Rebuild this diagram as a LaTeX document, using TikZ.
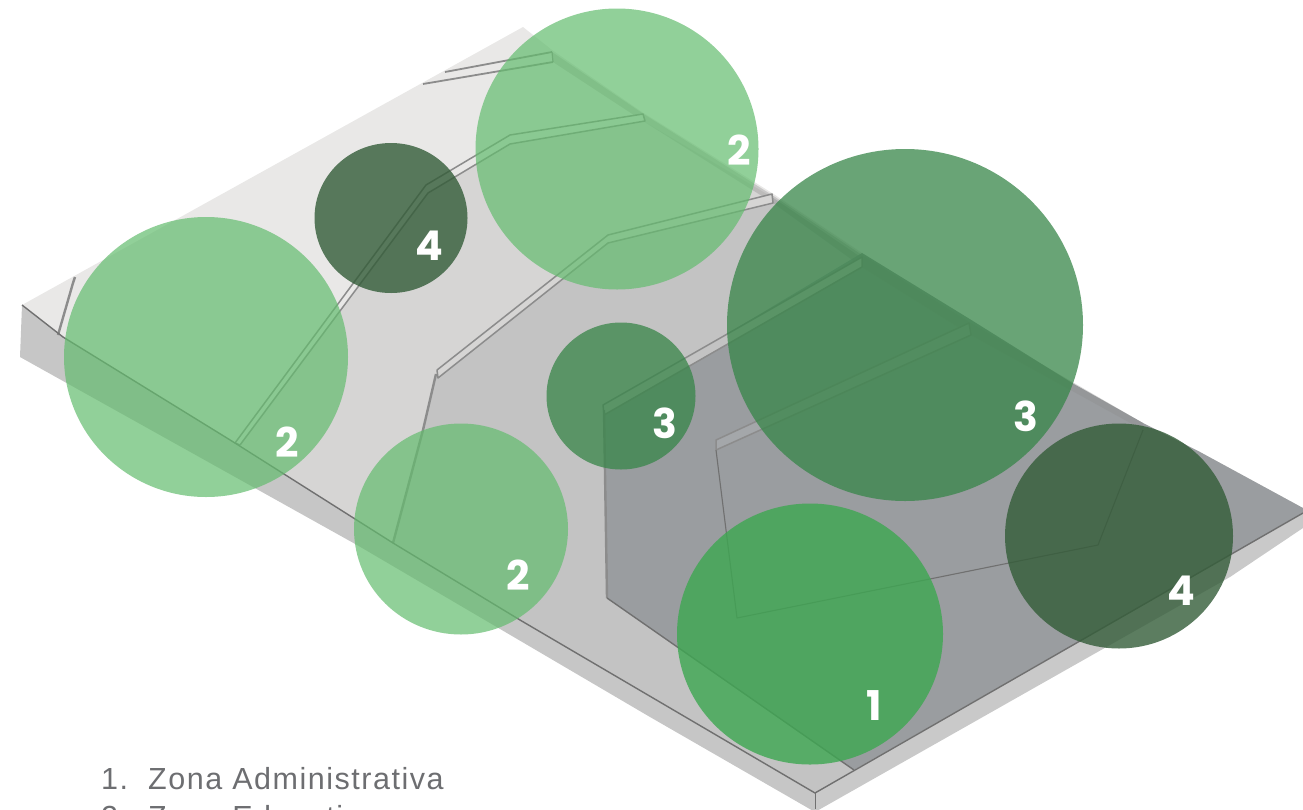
\documentclass[tikz,border=0pt]{standalone}
\usepackage{fontspec}
\setmainfont{Liberation Sans}
\newfontfamily\digitfont{Poppins}
\definecolor{zoneA}{HTML}{E9E8E7}
\definecolor{zoneB}{HTML}{D6D5D4}
\definecolor{zoneC}{HTML}{C3C3C3}
\definecolor{zoneD}{HTML}{9A9DA0}
\definecolor{sideL}{HTML}{C6C6C6}
\definecolor{sideR}{HTML}{C9C9C9}
\definecolor{wallc}{HTML}{8C8C8C}
\definecolor{wallf}{HTML}{D2D2D2}
\definecolor{legend}{HTML}{6D6E71}
\definecolor{cA}{HTML}{3DA751}
\definecolor{cB}{HTML}{63BC6E}
\definecolor{cC}{HTML}{378548}
\definecolor{cD}{HTML}{335C38}
\tikzset{
  edgeline/.style={draw=wallc!80!black,line width=1.4pt,line join=round},
  wall/.style={draw=wallc,fill=wallf,line width=1.5pt,line join=round},
  wallthick/.style={draw=wallc,line width=2.4pt,line join=round},
  blobA/.style={fill=cA,fill opacity=.80},
  blobB/.style={fill=cB,fill opacity=.70},
  blobC/.style={fill=cC,fill opacity=.75},
  blobD/.style={fill=cD,fill opacity=.80},
  digit/.style={text=white,font=\digitfont\bfseries\fontsize{41}{41}\selectfont,inner sep=0pt,anchor=center},
  legendtext/.style={text=legend,font=\fontsize{30.5}{36}\selectfont\addfontfeature{LetterSpace=5},inner sep=0pt,anchor=base west}
}
\begin{document}
\begin{tikzpicture}[x=1pt,y=-1pt]
\useasboundingbox (0,0) rectangle (1303,809);
% slab sides
\fill[sideL] (22,305) -- (20,357) -- (357,545) -- (650,717) -- (815,812) -- (815,793) -- (520,620) -- (393,543) -- (235,443) -- (63,337) -- cycle;
\fill[sideR] (815,793) -- (815,812) -- (1230,577) -- (1303,528) -- (1303,513) -- cycle;
% top surface
\fill[zoneA] (22,305) -- (523,27) -- (552,50) -- (642,112) -- (772,193) -- (862,253) -- (968,318) -- (1072,383) -- (1143,423) -- (1200,452) -- (1303,508) -- (1303,513) -- (815,793) -- (520,620) -- (393,543) -- (235,443) -- (63,337) -- cycle;
\fill[zoneB] (643,121) -- (510,144) -- (428,193) -- (240,445) -- (393,543) -- (437,372) -- (608,237) -- (772,197) -- cycle;
\fill[zoneC] (772,197) -- (862,258) -- (603,408) -- (607,598) -- (854,770) -- (815,793) -- (520,620) -- (393,543) -- (437,372) -- (608,237) -- cycle;
\fill[zoneD] (862,253) -- (968,318) -- (1072,383) -- (1143,423) -- (1200,452) -- (1303,508) -- (1303,513) -- (854,770) -- (607,598) -- (603,408) -- cycle;
% small walls, back
\draw[wallthick] (58,335) -- (73,283) -- (75,277);
\draw[wallc,line width=1.8pt] (445,72) -- (552,52);
\draw[wallc,line width=1.8pt] (423,84) -- (553,62);
\draw[wallc,line width=1.2pt] (552,52) -- (553,62);
% back wall band
\fill[wallc,opacity=.35] (552,52) -- (642,113) -- (772,195) -- (862,255) -- (969,322) -- (1143,423) -- (1143,430) -- (971,335) -- (862,267) -- (773,203) -- (643,121) -- (553,62) -- cycle;
% wall between the first two zones
\draw[wall,fill=zoneA] (235,443) -- (426,185) -- (510,135) -- (643,114) -- (645,121) -- (510,144) -- (428,193) -- (240,445) -- cycle;
% wall between the second and third zones
\draw[wall,fill=zoneB] (437,370) -- (608,235) -- (772,194) -- (773,203) -- (608,243) -- (438,378) -- cycle;
\draw[wallthick] (393,543) -- (423,430) -- (436,374);
% wall between the third and fourth zones
\draw[wall,fill=zoneC] (603,405) -- (862,257) -- (862,267) -- (604,415) -- cycle;
\draw[wallthick] (604,410) -- (607,598);
\draw[edgeline] (607,598) -- (854,770);
% inner wall
\draw[wall,fill=zoneD!90!white] (716,450) -- (716,440) -- (969,323) -- (971,335) -- cycle;
\draw[edgeline,line width=1.1pt] (716,450) -- (737,618) -- (1098,545) -- (1143,430);
% slab edges
\draw[edgeline] (22,305) -- (63,337) -- (235,443) -- (393,543) -- (520,620) -- (815,793) -- (1303,513);
\draw[edgeline,line width=1pt] (815,793) -- (815,809);
% circles
\fill[blobB] (617,149) ellipse [x radius=141.5,y radius=140.5];
\fill[blobB] (206,357) ellipse [x radius=142,y radius=140];
\fill[blobB] (461,529) ellipse [x radius=107,y radius=105.5];
\fill[blobD] (391,218) ellipse [x radius=76.5,y radius=75];
\fill[blobC] (621,396) ellipse [x radius=74.5,y radius=73.5];
\fill[blobC] (905,325) ellipse [x radius=178,y radius=176];
\fill[blobD] (1119,536) ellipse [x radius=114,y radius=112.5];
\fill[blobA] (810,634) ellipse [x radius=133,y radius=130.5];
% digits
\node[digit] (d4a) at (429,246) {4};
\node[digit] (d2a) at (739,150) {2};
\node[digit] (d2b) at (287,442) {2};
\node[digit] (d3a) at (665,423) {3};
\node[digit] (d3b) at (1026,416) {3};
\node[digit] (d2c) at (518,575) {2};
\node[digit] (d1) at (874,706) {1};
\node[digit] (d4b) at (1181,591) {4};
% legend
\node[legendtext] (n1) at (101,789) {1.};
\node[legendtext] (t1) at (148,789) {Zona Administrativa};
\node[legendtext] (n2) at (101,827) {2.};
\node[legendtext] (t2) at (148,827) {Zona Educativa};
\end{tikzpicture}
\end{document}
